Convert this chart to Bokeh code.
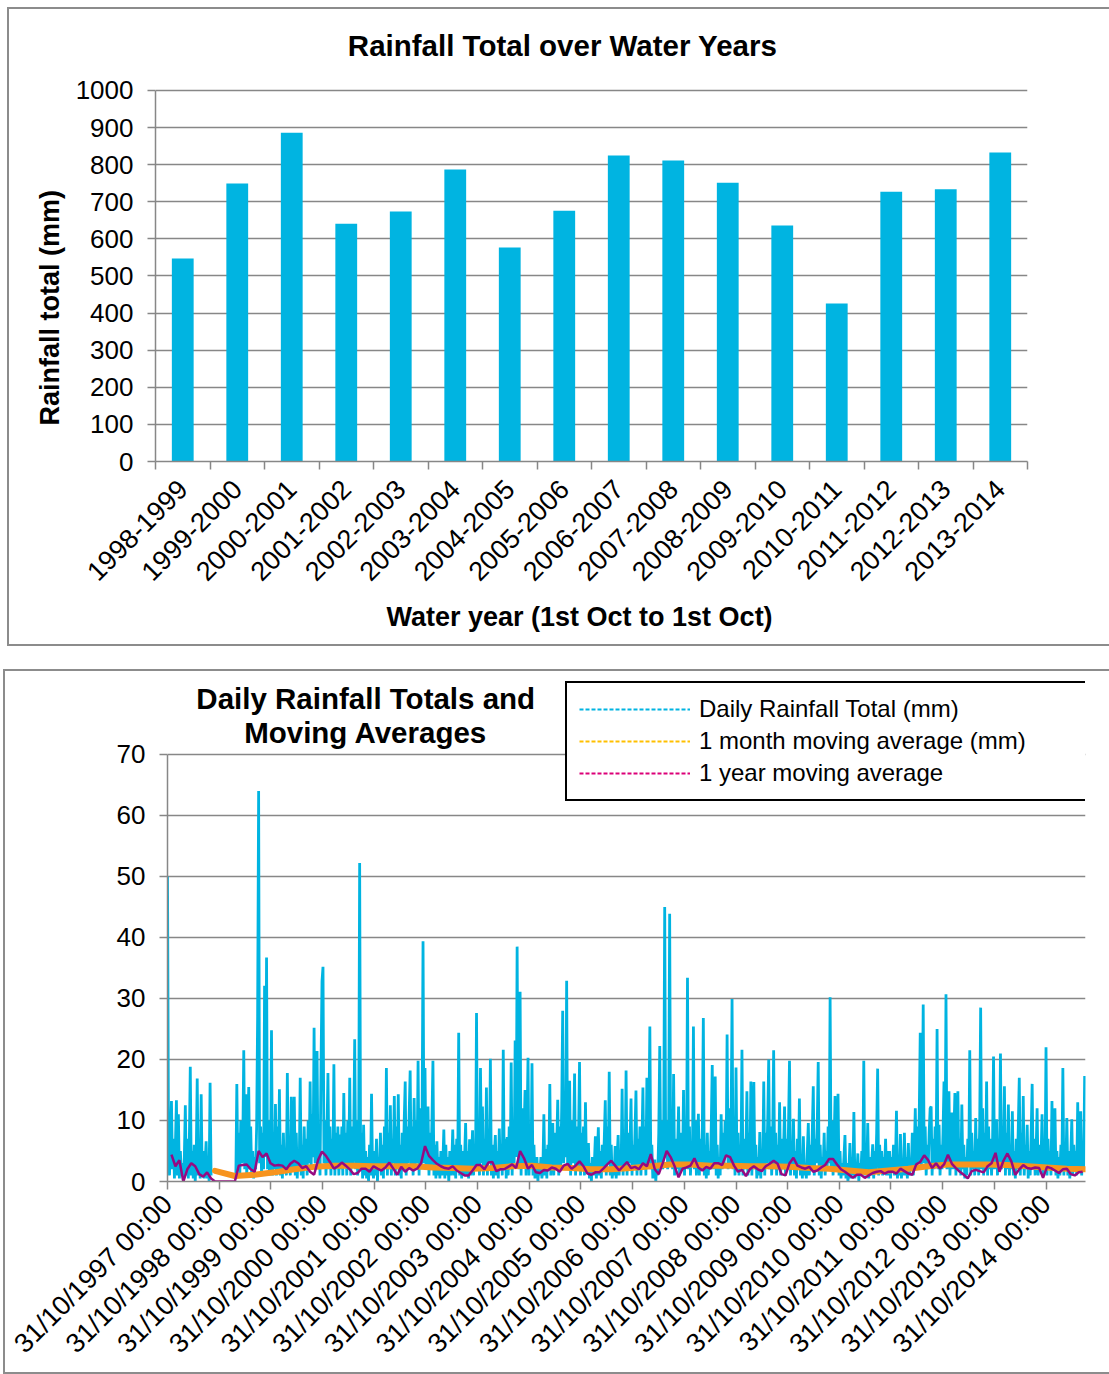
import math
from datetime import datetime, timedelta
from bokeh.plotting import figure
from bokeh.models import (ColumnDataSource, FixedTicker, Range1d, Label, Legend, LegendItem,
                          DatetimeTickFormatter, Title)
from bokeh.embed import file_html
from bokeh.resources import INLINE

nan = float("nan")

# ---------------- data: top chart ----------------
water_years = ["1998-1999", "1999-2000", "2000-2001", "2001-2002", "2002-2003", "2003-2004",
               "2004-2005", "2005-2006", "2006-2007", "2007-2008", "2008-2009", "2009-2010",
               "2010-2011", "2011-2012", "2012-2013", "2013-2014"]
rainfall_totals = [547, 749, 886, 641, 674, 787, 577, 676, 825, 811, 751, 636, 426, 727, 734, 833]
total_ticks = [0, 100, 200, 300, 400, 500, 600, 700, 800, 900, 1000]

# ---------------- data: bottom chart (weekly samples of the daily series) ----------------
series_start = "1997-10-31"
rain_1997 = [50, 8, 1, 6, 13.2, 2, 7, 0.5, 6, 13.3, 1, 11, 0.5, 5, 1, 3, 0, 4, 12.5, 1,
             7, 0.5, 6, 18.8, 1, 5, 0.5, 6, 0, 4, 16.9, 1, 6, 0.5, 14.3, 1, 5, 0.5, 3, 6.6,
             0.5, 4, 0, 16.2, 1, nan, nan, nan, nan, nan, nan, nan]
rain_1998 = [nan, nan, nan, nan, nan, nan, nan, nan, nan, nan, nan, nan, nan, nan, nan, nan, nan,
             0.5, 16, 2, 8, 1, 10, 3, 6, 21.5, 2, 14.3, 1, 7, 15.5, 2, 9, 1, 5, 0.5, 4, 2,
             9, 27.1, 64, 3, 9, 1, 8, 2, 32.1, 4, 36.7, 2, 10, 1]
rain_1999 = [3, 24.8, 1, 8, 2, 12.7, 1, 9, 2, 15.1, 1, 6, 0.5, 8, 2, 5, 1, 17.8, 2, 7,
             1, 13.9, 2, 6, 13.9, 1, 8, 0.5, 5, 2, 17, 1, 6, 0.5, 9, 2, 7, 1, 10, 3,
             16.4, 2, 11, 4, 25.2, 3, 12, 21.4, 2, 9, 1, 19.2]
rain_2000 = [32.8, 35.2, 3, 10, 1, 8, 17.8, 2, 9, 1, 7, 3, 19.2, 1, 8, 2, 9, 1, 7.7, 2,
             9, 1, 14.5, 3, 8, 1, 10, 2, 17, 1, 9, 3, 8, 23.3, 2, 10, 1, 6, 52.2, 2,
             8, 0.5, 9.3, 1, 5, 0.5, 4, 0, 6, 1, 14.4, 2]
rain_2001 = [0.5, 5, 1, 7, 0, 4, 2, 8, 1, 6, 0.5, 9, 2, 18.6, 1, 8, 2, 12.5, 1, 7,
             3, 14, 1, 9, 2, 14.3, 1, 6, 0.5, 8, 2, 10, 16.4, 1, 9, 3, 11, 18.2, 2, 9,
             1, 13.7, 2, 10, 3, 19.8, 1, 12, 2, 9, 39.4, 3]
rain_2002 = [18.6, 2, 7, 12.3, 1, 8, 2, 10, 19.8, 1, 6, 0.5, 6.6, 1, 4, 0.5, 5, 1, 3, 8.5,
             0.5, 6, 1, 4, 0, 5, 1, 3, 8.5, 1, 6, 0.5, 7, 2, 24.4, 1, 6, 0.5, 5, 1,
             4, 9.6, 1, 5, 0.5, 6.9, 1, 4, 8.4, 1, 6, 2]
rain_2003 = [27.6, 2, 9, 1, 18.6, 3, 12.3, 1, 7, 2, 15.4, 1, 8, 3, 20.1, 1, 6, 0.5, 4, 7.6,
             1, 5, 0.5, 8.7, 2, 6, 1, 21.6, 2, 7, 0.5, 7.3, 1, 9, 2, 19.5, 1, 10, 3, 23.1,
             4, 38.5, 6, 2, 31.1, 1, 12, 3, 8, 15, 1, 9]
rain_2004 = [20.3, 1, 8, 2, 19.4, 1, 6, 0.5, 3, 4, 0, 3, 1, 4, 0.5, 2, 11, 1, 5.3, 0.5,
             6, 2, 16, 1, 7, 9.6, 1, 8, 2, 6, 13.4, 1, 9, 2, 12, 28, 3, 11, 4, 32.9,
             2, 9, 16.5, 1, 10, 3, 7, 17.7, 1, 9, 2, 7]
rain_2005 = [19.6, 1, 8, 2, 9, 1, 13, 2, 4, 6.3, 0.5, 3, 0, 4, 1, 3, 7.4, 0.5, 4, 8.9,
             1, 5, 0.5, 6, 2, 7, 13.3, 1, 9, 3, 18, 1, 6, 0.5, 3, 1, 5.8, 0.5, 4, 7.6,
             1, 5, 2, 15.2, 1, 7, 2, 18.2, 1, 8, 3, 6]
rain_2006 = [13.6, 1, 6, 2, 8, 14.9, 1, 7, 2, 9, 1, 6, 15.4, 2, 9, 1, 17, 3, 10, 25.4,
             2, 6, 0.5, 2, 3.6, 0, 3, 1, 8, 22.2, 3, 10, 2, 9, 45, 4, 10, 2, 8, 43.9,
             3, 9, 2, 17.6, 1, 7, 2, 5, 12.3, 1, 8, 2]
rain_2007 = [2, 15, 1, 8, 3, 33.4, 2, 9, 1, 6, 3, 25.4, 2, 10, 1, 5, 11.1, 1, 7, 2,
             9, 26.8, 1, 6, 0.5, 8, 1, 5, 2, 9, 19.1, 2, 8, 17.2, 1, 6, 0.5, 4, 1, 11,
             2, 8, 3, 10, 4, 24.1, 2, 12, 3, 9, 29.9, 2]
rain_2008 = [9, 1, 18.7, 2, 8, 1, 6, 3, 21.6, 1, 7, 2, 5, 14.8, 1, 8, 2, 16.4, 1, 9,
             16.3, 2, 6, 0.5, 4, 1, 8.1, 0.5, 5, 2, 16.4, 1, 8, 3, 10, 20, 2, 9, 1, 7,
             21.5, 2, 8, 1, 6, 2, 13, 1, 7, 2, 5, 12.3]
rain_2009 = [1, 7, 2, 9, 19.8, 1, 6, 2, 10.3, 1, 5, 0.5, 7, 2, 13.6, 1, 4, 0.5, 7.4, 1,
             3, 0.5, 5, 9.6, 1, 6, 2, 8, 15.6, 1, 7, 3, 9, 19.6, 1, 6, 0.5, 4, 2, 8,
             1, 5, 2, 9, 3, 30.2, 2, 10, 1, 6, 14, 2]
rain_2010 = [6, 14.4, 1, 5, 0.5, 3, 1, 4, 7.6, 0.5, 3, 0, 2, 6.3, 0.5, 4, 1, 11.4, 0.5, 3,
             1, 4.6, 0, 3, 1, 5, 2, 19.8, 1, 5, 2, 9.6, 0.5, 4, 1, 3, 6.1, 0.5, 5, 2,
             8, 18.5, 1, 6, 2, 5, 1, 4, 2, 7, 1, 5]
rain_2011 = [1, 5, 0.5, 4, 2, 6, 1, 3, 11.6, 0.5, 4, 1, 7.8, 0.5, 3, 1, 8, 1, 4, 0.5,
             6.3, 1, 3, 2, 8, 1, 5, 12, 2, 9, 3, 11, 24.4, 2, 10, 29, 3, 9, 1, 6,
             2, 8, 12, 12.3, 1, 7, 2, 9, 3, 25, 2, 9.3]
rain_2012 = [1, 6, 2, 8, 16.4, 3, 30.7, 2, 9, 14.8, 1, 7, 11.3, 2, 8, 14.5, 1, 9, 14.8, 2,
             7, 1, 12.6, 2, 6, 0.5, 4, 1, 7, 3, 21.5, 1, 8, 2, 5, 1, 10.4, 2, 7, 1,
             9, 28.5, 2, 12, 1, 8, 3, 16.4, 1, 9, 2, 7]
rain_2013 = [1, 6, 20.5, 2, 8, 10.2, 1, 7, 3, 21, 2, 9, 3, 15.6, 1, 8, 2, 12.6, 1, 6,
             2, 11.5, 1, 5, 0.5, 7, 2, 9, 17, 1, 8, 2, 14, 1, 6, 2, 9.3, 0.5, 5, 1,
             8, 16, 2, 7, 1, 5, 12, 1, 6, 2, 4, 11]
rain_2014 = [1, 6, 2, 22, 1, 7, 2, 5, 1, 13.2, 2, 6, 12, 1, 5, 0.5, 4, 1, 6, 2,
             18.6, 1, 6, 2, 10.4, 1, 5, 0.5, 4, 10.2, 1, 6, 2, 5, 1, 13, 2, 6, 11.5, 1,
             5, 2, 17.3]

# 4-weekly samples of the wiggly purple average
purple_avg = [nan, 4.4, 2.5, 3.5, 0, 2, 3, 2.5, 1.2, 0.8,
              1.5, 0.5, 0, 0, 0, 0, 0, 0, 2.6, 2.7,
              2.8, 2, 1.6, 5, 4, 4.6, 3, 2.6, 2.7, 2.6,
              2, 2.9, 3.4, 3, 2.2, 2.5, 1.6, 1.1, 3.5, 4.9,
              4.2, 3.2, 2.1, 2.5, 3.1, 2.6, 2, 1.2, 1.4, 2.1,
              2.1, 1.6, 2.5, 2.1, 1.8, 2.3, 3.1, 2.1, 1.1, 2.4,
              1.6, 2.2, 1.8, 2.1, 3, 5.8, 4.2, 3.5, 2.9, 2.5,
              2.2, 2.1, 2.5, 1.8, 1.4, 1, 1, 1.8, 2.7, 2.7,
              2, 3.1, 3.2, 1.7, 2, 2, 2.4, 2.8, 2.2, 5,
              3.8, 2.1, 2.7, 1.5, 1.4, 1.9, 1.8, 2.3, 2.1, 1.6,
              2.6, 2.9, 2.1, 2.6, 3.3, 2.5, 1.3, 1.1, 1.5, 1.5,
              2.1, 2.8, 3.4, 2.6, 1.8, 2.5, 3.2, 2.2, 2.4, 2,
              3, 2.5, 4.5, 2, 1.2, 3, 5, 4, 2.5, 0.7,
              2.1, 2.3, 2.6, 3.8, 2.3, 1.8, 2.4, 2.1, 3, 3,
              2.7, 4.3, 4, 2.6, 1.6, 1.9, 0.9, 2, 2.5, 2,
              1.7, 2.5, 2.9, 3.4, 2.9, 1.2, 1, 3, 3.9, 2.6,
              2.3, 2.1, 2.4, 1.6, 1.8, 2.3, 2.7, 3.7, 3.7, 2.8,
              2, 1.6, 1.1, 0.6, 1.1, 1.1, 0.6, 1, 1.4, 1.6,
              1.7, 1.3, 1.6, 1.6, 1.3, 2.1, 1.7, 1.3, 1.1, 2.8,
              3.2, 4.3, 3.5, 2.2, 3, 2.1, 2.8, 4.4, 2.9, 2.2,
              1.6, 1.1, 0.5, 1.7, 1.9, 1.7, 1.5, 2.5, 3, 4.7,
              1.6, 3.4, 4.6, 3.3, 1.1, 2, 2.7, 2.2, 2.1, 2.3,
              2.2, 0.6, 2.4, 2.2, 1.8, 1.4, 2, 2.1, 1.2, 1,
              1.5, 1.6]

# 20-weekly samples of the smooth orange average
orange_start = "1998-10-02"
orange_avg = [1.75, 0.9, 1.1, 1.5, 2.0, 2.4, 2.6, 2.6, 2.5, 2.5,
              2.5, 2.3, 2.2, 2.1, 2.2, 2.5, 2.6, 2.3, 2.2, 2.0,
              2.0, 2.2, 2.5, 2.8, 2.8, 2.6, 2.6, 2.5, 2.5, 2.4,
              2.2, 2.1, 1.8, 1.5, 1.8, 2.1, 2.5, 2.8, 2.8, 2.8,
              2.7, 2.5, 2.3, 2.1, 2.0]

daily_ticks = [0, 10, 20, 30, 40, 50, 60, 70]
tick_years = list(range(1997, 2015))
legend_labels = ["Daily Rainfall Total (mm)", "1 month moving average (mm)", "1 year moving average"]

# ---------------- styling ----------------
FONT = "Liberation Sans"
GREY = "#878787"
CYAN = "#00B4E1"
ORANGE = "#F7941E"
PURPLE = "#960A82"
HAS_STANDOFF = "standoff" in Title.properties()


def make_title(text, size, align, offset, standoff):
    t = Title(text=text, align=align, offset=offset, text_font=FONT, text_font_size=size,
              text_font_style="bold", text_color="black")
    if HAS_STANDOFF:
        t.standoff = standoff
    return t


def style_axes(p):
    p.outline_line_color = None
    p.xgrid.visible = False
    p.ygrid.grid_line_color = GREY
    p.ygrid.grid_line_width = 1.5
    for ax in p.axis:
        ax.axis_line_color = GREY
        ax.axis_line_width = 1.5
        ax.major_tick_line_color = GREY
        ax.major_tick_line_width = 1.5
        ax.major_tick_in = 0
        ax.major_tick_out = 8
        ax.minor_tick_line_color = None
        ax.major_label_text_font = FONT
        ax.major_label_text_font_size = "26px"
        ax.major_label_text_color = "black"
    p.yaxis.major_label_standoff = 14
    p.xaxis.major_label_text_font_size = "27px"


# ---------------- top chart ----------------
# frame: page x 155..1027, y(1000)=90, y(0)=461; host placed at page (9, 9)
p1 = figure(width=1100, height=635, x_range=Range1d(0, len(water_years)), y_range=Range1d(0, 1218.3),
            output_backend="svg", toolbar_location=None,
            min_border_left=146, min_border_right=82, min_border_top=0, min_border_bottom=183)
p1.styles = {"outline": "2px solid #8c8c8c", "margin-left": "9px", "margin-top": "9px"}
xc = [i + 0.5 for i in range(len(water_years))]
src = ColumnDataSource(dict(x=xc, top=rainfall_totals, year=water_years))
p1.vbar(x="x", top="top", bottom=0, width=0.4, source=src, fill_color=CYAN, line_color=None)
style_axes(p1)
p1.yaxis.ticker = FixedTicker(ticks=total_ticks)
p1.yaxis.bounds = (0, 1000)
p1.xaxis.ticker = FixedTicker(ticks=xc, minor_ticks=list(range(len(water_years) + 1)))
p1.xaxis.major_label_overrides = {x: y for x, y in zip(xc, water_years)}
p1.xaxis.major_tick_line_color = None
p1.xaxis.minor_tick_line_color = GREY
p1.xaxis.minor_tick_line_width = 1.5
p1.xaxis.minor_tick_in = 0
p1.xaxis.minor_tick_out = 8
p1.xaxis.major_label_orientation = math.pi / 4
p1.xaxis.major_label_standoff = 15

p1.add_layout(Label(x=7.47, y=1121, text="Rainfall Total over Water Years", text_font=FONT,
                    text_font_size="29.5px", text_font_style="bold", text_align="center",
                    text_baseline="middle", text_color="black"))
p1.add_layout(make_title("Rainfall total (mm)", "27px", "left", 36, 16), "left")
p1.add_layout(make_title("Water year (1st Oct to 1st Oct)", "27px", "left", 231, 15), "below")

# ---------------- bottom chart ----------------
# frame: page x 167..1085, y(70)=754, y(0)=1181; host placed at page (5, 671)
t0 = datetime.strptime(series_start, "%Y-%m-%d")
daily_rain = (rain_1997 + rain_1998 + rain_1999 + rain_2000 + rain_2001 + rain_2002 + rain_2003 +
              rain_2004 + rain_2005 + rain_2006 + rain_2007 + rain_2008 + rain_2009 + rain_2010 +
              rain_2011 + rain_2012 + rain_2013 + rain_2014)
rain_dates = [t0 + timedelta(days=7 * i) for i in range(len(daily_rain))]
purple_dates = [t0 + timedelta(days=28 * i) for i in range(len(purple_avg))]
o0 = datetime.strptime(orange_start, "%Y-%m-%d")
orange_dates = [o0 + timedelta(days=140 * i) for i in range(len(orange_avg))]

x_end = t0 + timedelta(days=6488)
p2 = figure(width=1104, height=701, x_axis_type="datetime", x_range=Range1d(t0, x_end),
            y_range=Range1d(0, 83.6), output_backend="svg", toolbar_location=None,
            min_border_left=162, min_border_right=24, min_border_top=0, min_border_bottom=191)
p2.styles = {"outline": "2px solid #8c8c8c", "margin-left": "5px", "margin-top": "27px"}
p2.line(x=rain_dates, y=daily_rain, line_color=CYAN, line_width=2.8)
p2.line(x=orange_dates, y=orange_avg, line_color=ORANGE, line_width=6, line_cap="round")
p2.line(x=purple_dates, y=purple_avg, line_color=PURPLE, line_width=2.5)
style_axes(p2)
p2.yaxis.ticker = FixedTicker(ticks=daily_ticks)
p2.yaxis.bounds = (0, 70)
epoch = datetime(1970, 1, 1)
tick_ms = [(datetime(y, 10, 31) - epoch).total_seconds() * 1000.0 for y in tick_years]
p2.xaxis.ticker = FixedTicker(ticks=tick_ms)
fmt = "%d/%m/%Y %H:%M"
p2.xaxis.formatter = DatetimeTickFormatter(microseconds=fmt, milliseconds=fmt, seconds=fmt, minsec=fmt,
                                           minutes=fmt, hourmin=fmt, hours=fmt, days=fmt,
                                           months=fmt, years=fmt)
p2.xaxis.major_label_orientation = math.pi / 4
p2.xaxis.major_label_standoff = 10

# legend swatches: dashed lines with no visible data points
leg_r = [p2.line(x=[t0, t0], y=[nan, nan], line_color=c, line_dash="4 2", line_width=2)
         for c in [CYAN, "#FFC000", "#DC0078"]]
legend = Legend(items=[LegendItem(label=l, renderers=[r]) for l, r in zip(legend_labels, leg_r)],
                location=(398, 380), border_line_color="black", border_line_width=2,
                border_line_alpha=1.0, background_fill_color="white", background_fill_alpha=1.0,
                label_text_font=FONT, label_text_font_size="24px", label_text_color="black",
                label_standoff=9, glyph_width=111, glyph_height=28, label_height=28, label_width=420,
                spacing=4, padding=12, margin=0)
p2.add_layout(legend)

title_x = t0 + timedelta(days=1401)
p2.add_layout(Label(x=title_x, y=79.2, text="Daily Rainfall Totals and", text_font=FONT,
                    text_font_size="29.5px", text_font_style="bold", text_align="center",
                    text_baseline="middle", text_color="black"))
p2.add_layout(Label(x=title_x, y=73.6, text="Moving Averages", text_font=FONT,
                    text_font_size="29.5px", text_font_style="bold", text_align="center",
                    text_baseline="middle", text_color="black"))

open("out.html", "w").write(file_html([p1, p2], INLINE))
